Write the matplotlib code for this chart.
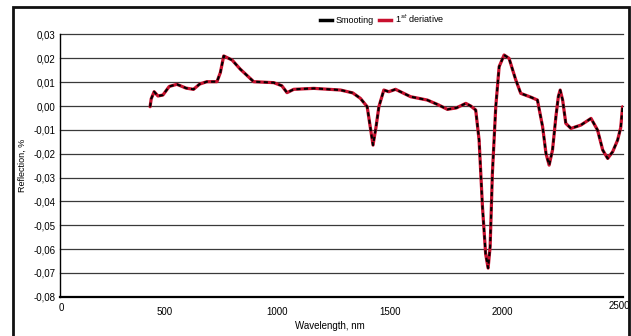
import matplotlib.pyplot as plt
import matplotlib.transforms as mtransforms
from matplotlib.patches import Rectangle
from matplotlib.lines import Line2D

# spectrum (wavelength, nm / reflection)
wavelength = [400, 405, 418, 435, 457, 485, 519, 560, 593, 620, 652, 697, 712,
              727, 764, 800, 860, 949, 985, 1008, 1038, 1127, 1246, 1300, 1334,
              1364, 1378, 1390, 1403, 1416, 1438, 1460, 1490, 1557, 1631, 1680,
              1720, 1760, 1802, 1824, 1846, 1861, 1876, 1890, 1901, 1910, 1920,
              1935, 1950, 1972, 1994, 2024, 2046, 2091, 2120, 2143, 2158, 2172,
              2187, 2202, 2213, 2221, 2232, 2246, 2269, 2313, 2358, 2387, 2410,
              2432, 2454, 2476, 2490, 2498]
smoothing = [-0.0003, 0.003, 0.006, 0.0042, 0.0046, 0.0082, 0.0091, 0.0075, 0.007,
             0.0092, 0.0102, 0.0102, 0.014, 0.021, 0.0193, 0.0155, 0.0102, 0.0098,
             0.0085, 0.0056, 0.007, 0.0074, 0.0067, 0.0055, 0.0032, -0.0003,
             -0.009, -0.0164, -0.009, -0.0003, 0.0067, 0.006, 0.007, 0.0039,
             0.0025, 0.0005, -0.0014, -0.0008, 0.0011, 0.0, -0.0017, -0.0143,
             -0.0423, -0.062, -0.068, -0.059, -0.0283, -0.0003, 0.0165, 0.0214,
             0.02, 0.0109, 0.0053, 0.0037, 0.0025, -0.0087, -0.0199, -0.0248,
             -0.0185, -0.0045, 0.004, 0.0067, 0.0025, -0.0073, -0.0094, -0.008,
             -0.0052, -0.0101, -0.0185, -0.022, -0.0192, -0.0143, -0.009, -0.0003]
derivative = smoothing

xticks = [0, 500, 1000, 1500, 2000, 2500]
yticks = [0.03, 0.02, 0.01, 0.0, -0.01, -0.02, -0.03, -0.04, -0.05, -0.06, -0.07, -0.08]

plt.rcParams['font.family'] = ['Liberation Sans Narrow', 'Liberation Sans', 'DejaVu Sans']

fig = plt.figure(figsize=(6.31, 3.36), dpi=100)
ax = fig.add_axes([60 / 631, 1 - 296.7 / 336, 563 / 631, 262.2 / 336])

red = '#c8102e'
ax.plot(wavelength, derivative, color=red, lw=2.3, solid_capstyle='round', zorder=3)
ax.plot(wavelength, smoothing, color='black', lw=1.5, linestyle=(0, (2.0, 1.6)), zorder=4)

ax.set_xlim(0, 2500)
ax.set_ylim(-0.08, 0.03)
ax.set_xticks(xticks)
ax.set_xticklabels([str(t) for t in xticks])
ax.set_yticks(yticks)
ax.set_yticklabels([f"{t:.2f}".replace('.', ',').replace('-0,00', '0,00') for t in yticks])
ax.tick_params(length=0, labelsize=7, pad=3)
ax.tick_params(axis='x', pad=6)

# horizontal grid, top line included
for t in yticks[:-1]:
    ax.axhline(t, color='#3a3a3a', lw=0.9, zorder=1, clip_on=False)
for s in ('top', 'right'):
    ax.spines[s].set_visible(False)
ax.spines['left'].set_linewidth(1.0)
ax.spines['bottom'].set_linewidth(1.6)

# nudge the x labels like in the original chart
for lab, t in zip(ax.get_xticklabels(), xticks):
    if t == 0:
        dx, dy = 1, 2
    elif t == 2500:
        dx, dy = -4, 4
    else:
        dx, dy = -8, -2
    lab.set_transform(lab.get_transform() + mtransforms.ScaledTranslation(dx / 100, dy / 100, fig.dpi_scale_trans))

fig.text(330 / 631, 1 - 326 / 336, "Wavelength, nm", ha='center', va='center', fontsize=7)
fig.text(22 / 631, 1 - 165 / 336, "Reflection, %", ha='center', va='center', rotation=90, fontsize=6.5)

handles = [Line2D([], [], color='black', lw=2.5), Line2D([], [], color=red, lw=2.5)]
fig.legend(handles, ["Smooting", "1$^{st}$ deriative"], ncol=2, frameon=False,
           loc='center', bbox_to_anchor=(382 / 631, 1 - 19 / 336), fontsize=6.5,
           handlelength=1.3, handletextpad=0.4, columnspacing=0.6)

# outer frame
fig.patches.append(Rectangle((13 / 631, -0.05), 616 / 631, 1.05 - 7 / 336,
                             transform=fig.transFigure, fill=False, lw=2, ec='#111111'))

fig.savefig('out.png', dpi=100)
